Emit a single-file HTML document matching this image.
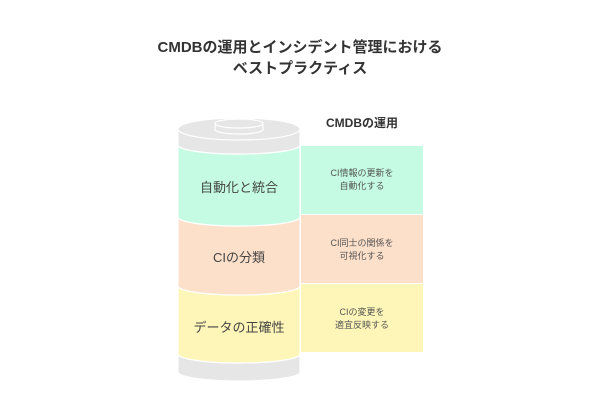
<!DOCTYPE html>
<html><head><meta charset="utf-8"><style>
body{margin:0;background:#fff;width:600px;height:400px;overflow:hidden}
svg{display:block}
text{font-family:"Liberation Sans","Noto Sans CJK JP",sans-serif}
</style></head><body>
<svg width="600" height="400" viewBox="0 0 600 400">
<text x="300" y="52" font-size="15" font-weight="bold" fill="#333" text-anchor="middle">CMDBの運用とインシデント管理における</text>
<text x="300" y="73" font-size="15" font-weight="bold" fill="#333" text-anchor="middle">ベストプラクティス</text>
<text x="362" y="127" font-size="12" font-weight="bold" fill="#333" text-anchor="middle">CMDBの運用</text>
<path d="M178,354 A61,9 0 0 0 300,354 L300,372 A61,9 0 0 1 178,372 Z" fill="#e6e6e6" stroke="#fff" stroke-width="1.2"/>
<path d="M178,286 A61,9 0 0 0 300,286 L300,354 A61,9 0 0 1 178,354 Z" fill="#fef6b8" stroke="#fff" stroke-width="1.2"/>
<path d="M178,217 A61,9 0 0 0 300,217 L300,286 A61,9 0 0 1 178,286 Z" fill="#fde0ca" stroke="#fff" stroke-width="1.2"/>
<path d="M178,145 A61,9 0 0 0 300,145 L300,217 A61,9 0 0 1 178,217 Z" fill="#c4fbe2" stroke="#fff" stroke-width="1.2"/>
<path d="M178,129 L178,145 A61,9 0 0 0 300,145 L300,129 Z" fill="#e6e6e6" stroke="#fff" stroke-width="1.2"/>
<ellipse cx="239" cy="129" rx="61" ry="11" fill="#e6e6e6" stroke="#fff" stroke-width="1.2"/>
<path d="M215,123.5 L215,129.5 A24,4.5 0 0 0 263,129.5 L263,123.5 Z" fill="#e6e6e6" stroke="#fff" stroke-width="1.2"/>
<ellipse cx="239" cy="123.5" rx="24" ry="4.5" fill="#e6e6e6" stroke="#fff" stroke-width="1.2"/>
<rect x="301" y="146" width="122" height="68" fill="#c4fbe2"/>
<rect x="301" y="215" width="122" height="68" fill="#fde0ca"/>
<rect x="301" y="284" width="122" height="68" fill="#fef6b8"/>
<g font-size="13" fill="#444" text-anchor="middle">
<text x="239" y="192">自動化と統合</text>
<text x="239" y="262">CIの分類</text>
<text x="239" y="332">データの正確性</text>
</g>
<g font-size="9" fill="#555" text-anchor="middle">
<text x="362" y="176">CI情報の更新を</text>
<text x="362" y="189">自動化する</text>
<text x="362" y="246">CI同士の関係を</text>
<text x="362" y="259">可視化する</text>
<text x="362" y="315">CIの変更を</text>
<text x="362" y="328">適宜反映する</text>
</g>
</svg>
</body></html>
